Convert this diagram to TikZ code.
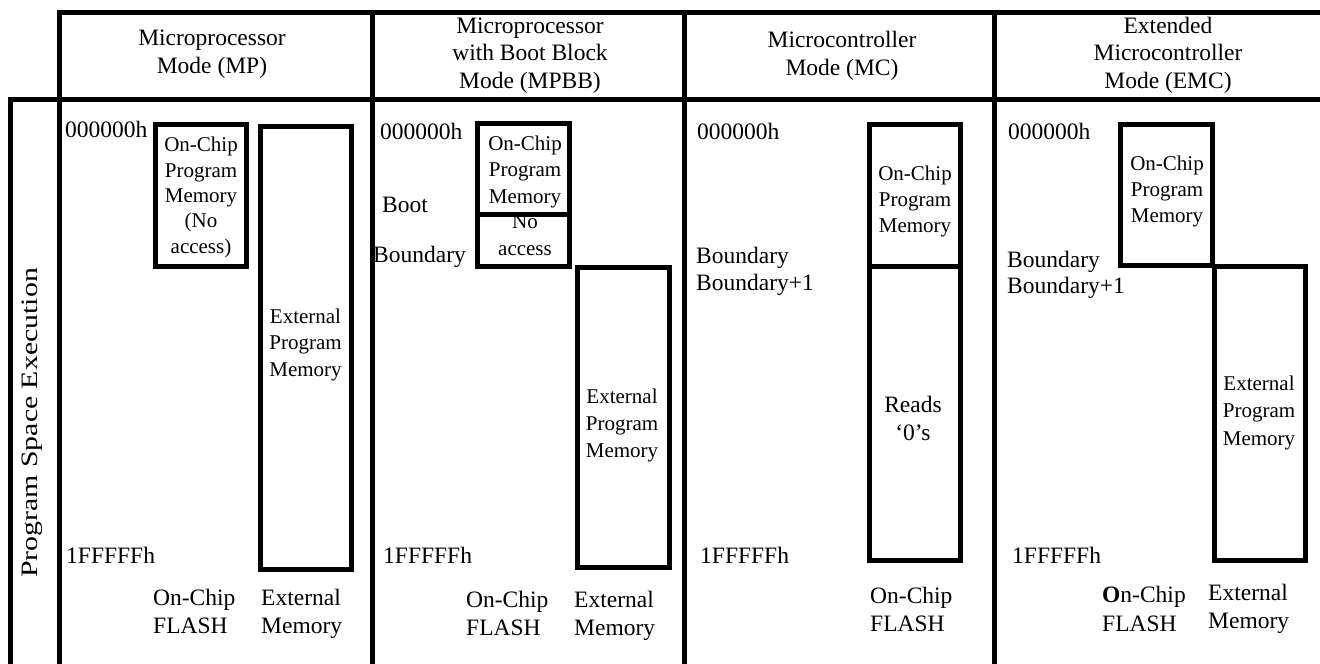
\documentclass[tikz,border=0pt]{standalone}
\usepackage{fontspec}
\setmainfont{Liberation Serif}
\begin{document}
\begin{tikzpicture}[x=1pt,y=-1pt,
  frame/.style={line width=5pt, line cap=rect},
  memrect/.style={line width=5pt},
  big/.style={font=\fontsize{23.5}{28}\selectfont, inner sep=0pt, align=center, anchor=base},
  bigl/.style={font=\fontsize{23.5}{28}\selectfont, inner sep=0pt, align=left, anchor=base west},
  small/.style={font=\fontsize{21}{26.5}\selectfont, inner sep=0pt, align=center, anchor=base}]
\useasboundingbox (0,0) rectangle (1320,664);
\fill[white] (0,0) rectangle (1320,664);
% frame
\draw[frame] (59,12) -- (1322,12);
\draw[frame] (10,99) -- (1322,99);
\draw[frame] (10,99) -- (10,670);
\draw[frame] (59,12) -- (59,670);
\draw[frame] (372,12) -- (372,670);
\draw[frame] (684,12) -- (684,670);
\draw[frame] (994,12) -- (994,670);
% headers (anchor = baseline of last line)
\node[big] (hmp) at (212,73) {Microprocessor\\Mode (MP)};
\node[big, font=\fontsize{23.5}{27.5}\selectfont] (hmpbb) at (530,88) {Microprocessor\\with Boot Block\\Mode (MPBB)};
\node[big] (hmc) at (842,75) {Microcontroller\\Mode (MC)};
\node[big, font=\fontsize{23.5}{27.5}\selectfont] (hemc) at (1168,88) {Extended\\Microcontroller\\Mode (EMC)};
\node[font=\fontsize{23.5}{28}\selectfont, inner sep=0pt, rotate=90] (pse) at (32,423) {\scalebox{1.27}[1]{Program Space Execution}};
% MP column
\draw[memrect] (155.5,124) rectangle (246,266);
\draw[memrect] (260,126) rectangle (351,569);
\node[bigl] (mp0) at (65,137) {000000h};
\node[small, font=\fontsize{21}{25.3}\selectfont] (mpoc) at (201,253) {On-Chip\\Program\\Memory\\(No\\access)};
\node[small] (mpext) at (305.5,376) {External\\Program\\Memory};
\node[bigl] (mp1) at (66,563) {1FFFFFh};
\node[bigl] (mpfl) at (153,633) {On-Chip\\FLASH};
\node[bigl] (mpem) at (261,633) {External\\Memory};
% MPBB column
\draw[memrect] (477.5,123.5) rectangle (569,266);
\draw[memrect] (477.5,214) -- (569,214);
\draw[memrect] (577.5,267.5) rectangle (669.5,567.5);
\node[bigl] (bb0) at (380,139) {000000h};
\node[bigl] (bbboot) at (382,212) {Boot};
\node[bigl] (bbbnd) at (373,262) {Boundary};
\node[small] (bboc) at (525,203) {On-Chip\\Program\\Memory};
\node[small, font=\fontsize{21}{27}\selectfont] (bbna) at (525,255) {No\\access};
\node[small, font=\fontsize{21}{27}\selectfont] (bbext) at (622,457) {External\\Program\\Memory};
\node[bigl] (bb1) at (383,563) {1FFFFFh};
\node[bigl] (bbfl) at (466,635) {On-Chip\\FLASH};
\node[bigl] (bbem) at (574,635) {External\\Memory};
% MC column
\draw[memrect] (869.5,124.5) rectangle (960.5,560.5);
\draw[memrect] (869.5,266.5) -- (960.5,266.5);
\node[bigl] (mc0) at (697,139) {000000h};
\node[bigl, font=\fontsize{23.5}{27}\selectfont] (mcbnd) at (696,290) {Boundary\\Boundary+1};
\node[small, font=\fontsize{21}{26}\selectfont] (mcoc) at (915,232) {On-Chip\\Program\\Memory};
\node[big] (mcrd) at (913,440) {Reads\\‘0’s};
\node[bigl] (mc1) at (700,563) {1FFFFFh};
\node[bigl] (mcfl) at (870,631) {On-Chip\\FLASH};
% EMC column
\draw[memrect] (1120.5,124.5) rectangle (1212.5,265.5);
\draw[memrect] (1214.5,266.5) rectangle (1305.5,560);
\node[bigl] (em0) at (1008,139) {000000h};
\node[bigl, font=\fontsize{23.5}{26}\selectfont] (embnd) at (1007,293) {Boundary\\Boundary+1};
\node[small, font=\fontsize{21}{26}\selectfont] (emoc) at (1167,222) {On-Chip\\Program\\Memory};
\node[small, font=\fontsize{21}{27.5}\selectfont] (emext) at (1259,445) {External\\Program\\Memory};
\node[bigl] (em1) at (1012,563) {1FFFFFh};
\node[bigl, font=\fontsize{23.5}{29}\selectfont] (emfl) at (1102,631) {\textbf{O}n-Chip\\FLASH};
\node[bigl] (emem) at (1208,628) {External\\Memory};
\end{tikzpicture}
\end{document}
